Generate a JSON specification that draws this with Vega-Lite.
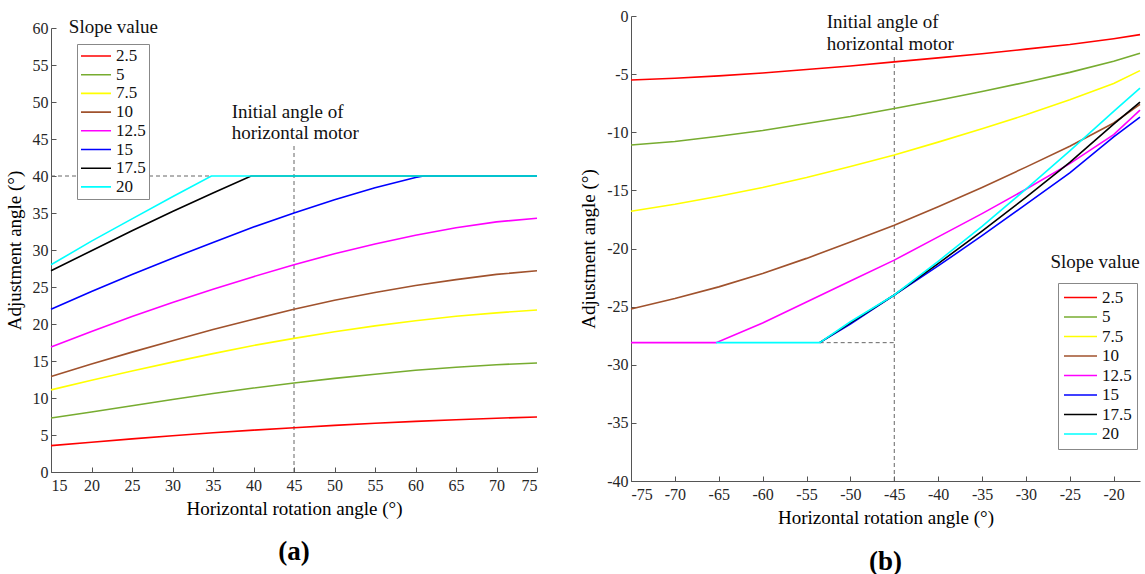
{
  "$schema": "https://vega.github.io/schema/vega-lite/v6.json",
  "background": "white",
  "padding": {"left": 5, "top": 8, "right": 0, "bottom": 0},
  "config": {
    "view": {"stroke": null},
    "font": "Liberation Serif",
    "axis": {
      "labelFont": "Liberation Serif", "labelFontSize": 16, "labelColor": "#262626",
      "titleFont": "Liberation Serif", "titleFontSize": 19, "titleFontWeight": "normal", "titleColor": "#000000",
      "domainColor": "#555555", "tickColor": "#555555", "tickSize": -5, "labelPadding": 8, "grid": false,
      "labelExpr": "'' + datum.value"
    },
    "axisX": {"titlePadding": 6, "labelPadding": 10},
    "axisY": {"titlePadding": 8},
    "legend": {"labelFont": "Liberation Serif"}
  },
  "datasets": {
    "la": [
      {"s":"2.5","x":15,"y":3.56},{"s":"2.5","x":20,"y":4.03},{"s":"2.5","x":25,"y":4.48},{"s":"2.5","x":30,"y":4.9},{"s":"2.5","x":35,"y":5.3},{"s":"2.5","x":40,"y":5.66},{"s":"2.5","x":45,"y":5.99},{"s":"2.5","x":50,"y":6.3},{"s":"2.5","x":55,"y":6.58},{"s":"2.5","x":60,"y":6.84},{"s":"2.5","x":65,"y":7.07},{"s":"2.5","x":70,"y":7.27},{"s":"2.5","x":75,"y":7.43},
      {"s":"5","x":15,"y":7.3},{"s":"5","x":20,"y":8.1},{"s":"5","x":25,"y":8.95},{"s":"5","x":30,"y":9.8},{"s":"5","x":35,"y":10.6},{"s":"5","x":40,"y":11.35},{"s":"5","x":45,"y":12.03},{"s":"5","x":50,"y":12.65},{"s":"5","x":55,"y":13.2},{"s":"5","x":60,"y":13.75},{"s":"5","x":65,"y":14.15},{"s":"5","x":70,"y":14.5},{"s":"5","x":75,"y":14.73},
      {"s":"7.5","x":15,"y":11.1},{"s":"7.5","x":20,"y":12.4},{"s":"7.5","x":25,"y":13.65},{"s":"7.5","x":30,"y":14.85},{"s":"7.5","x":35,"y":16.0},{"s":"7.5","x":40,"y":17.1},{"s":"7.5","x":45,"y":18.06},{"s":"7.5","x":50,"y":18.95},{"s":"7.5","x":55,"y":19.75},{"s":"7.5","x":60,"y":20.45},{"s":"7.5","x":65,"y":21.05},{"s":"7.5","x":70,"y":21.5},{"s":"7.5","x":75,"y":21.9},
      {"s":"10","x":15,"y":12.9},{"s":"10","x":20,"y":14.6},{"s":"10","x":25,"y":16.2},{"s":"10","x":30,"y":17.75},{"s":"10","x":35,"y":19.25},{"s":"10","x":40,"y":20.65},{"s":"10","x":45,"y":22.0},{"s":"10","x":50,"y":23.2},{"s":"10","x":55,"y":24.25},{"s":"10","x":60,"y":25.2},{"s":"10","x":65,"y":26.0},{"s":"10","x":70,"y":26.7},{"s":"10","x":75,"y":27.2},
      {"s":"12.5","x":15,"y":16.9},{"s":"12.5","x":20,"y":19.0},{"s":"12.5","x":25,"y":21.0},{"s":"12.5","x":30,"y":22.9},{"s":"12.5","x":35,"y":24.7},{"s":"12.5","x":40,"y":26.4},{"s":"12.5","x":45,"y":28.0},{"s":"12.5","x":50,"y":29.5},{"s":"12.5","x":55,"y":30.8},{"s":"12.5","x":60,"y":32.0},{"s":"12.5","x":65,"y":33.0},{"s":"12.5","x":70,"y":33.8},{"s":"12.5","x":75,"y":34.3},
      {"s":"15","x":15,"y":22.0},{"s":"15","x":20,"y":24.4},{"s":"15","x":25,"y":26.7},{"s":"15","x":30,"y":28.9},{"s":"15","x":35,"y":31.0},{"s":"15","x":40,"y":33.1},{"s":"15","x":45,"y":35.0},{"s":"15","x":50,"y":36.8},{"s":"15","x":55,"y":38.4},{"s":"15","x":60,"y":39.8},{"s":"15","x":61,"y":40},{"s":"15","x":75,"y":40},
      {"s":"17.5","x":15,"y":27.2},{"s":"17.5","x":20,"y":29.9},{"s":"17.5","x":25,"y":32.6},{"s":"17.5","x":30,"y":35.2},{"s":"17.5","x":35,"y":37.7},{"s":"17.5","x":39.7,"y":40},{"s":"17.5","x":75,"y":40},
      {"s":"20","x":15,"y":28.0},{"s":"20","x":20,"y":31.2},{"s":"20","x":25,"y":34.2},{"s":"20","x":30,"y":37.2},{"s":"20","x":34.8,"y":40},{"s":"20","x":75,"y":40}
    ],
    "lb": [
      {"s":"2.5","x":-75,"y":-5.5},{"s":"2.5","x":-70,"y":-5.35},{"s":"2.5","x":-65,"y":-5.15},{"s":"2.5","x":-60,"y":-4.9},{"s":"2.5","x":-55,"y":-4.6},{"s":"2.5","x":-50,"y":-4.3},{"s":"2.5","x":-45,"y":-3.95},{"s":"2.5","x":-40,"y":-3.6},{"s":"2.5","x":-35,"y":-3.25},{"s":"2.5","x":-30,"y":-2.85},{"s":"2.5","x":-25,"y":-2.45},{"s":"2.5","x":-20,"y":-1.95},{"s":"2.5","x":-17,"y":-1.6},
      {"s":"5","x":-75,"y":-11.1},{"s":"5","x":-70,"y":-10.8},{"s":"5","x":-65,"y":-10.35},{"s":"5","x":-60,"y":-9.85},{"s":"5","x":-55,"y":-9.25},{"s":"5","x":-50,"y":-8.65},{"s":"5","x":-45,"y":-7.95},{"s":"5","x":-40,"y":-7.25},{"s":"5","x":-35,"y":-6.5},{"s":"5","x":-30,"y":-5.7},{"s":"5","x":-25,"y":-4.85},{"s":"5","x":-20,"y":-3.9},{"s":"5","x":-17,"y":-3.2},
      {"s":"7.5","x":-75,"y":-16.8},{"s":"7.5","x":-70,"y":-16.2},{"s":"7.5","x":-65,"y":-15.5},{"s":"7.5","x":-60,"y":-14.75},{"s":"7.5","x":-55,"y":-13.9},{"s":"7.5","x":-50,"y":-12.95},{"s":"7.5","x":-45,"y":-11.95},{"s":"7.5","x":-40,"y":-10.85},{"s":"7.5","x":-35,"y":-9.7},{"s":"7.5","x":-30,"y":-8.5},{"s":"7.5","x":-25,"y":-7.2},{"s":"7.5","x":-20,"y":-5.8},{"s":"7.5","x":-17,"y":-4.7},
      {"s":"10","x":-75,"y":-25.2},{"s":"10","x":-70,"y":-24.3},{"s":"10","x":-65,"y":-23.3},{"s":"10","x":-60,"y":-22.15},{"s":"10","x":-55,"y":-20.85},{"s":"10","x":-50,"y":-19.45},{"s":"10","x":-45,"y":-18.0},{"s":"10","x":-40,"y":-16.4},{"s":"10","x":-35,"y":-14.75},{"s":"10","x":-30,"y":-13.0},{"s":"10","x":-25,"y":-11.2},{"s":"10","x":-20,"y":-9.2},{"s":"10","x":-17,"y":-7.6},
      {"s":"12.5","x":-75,"y":-28.1},{"s":"12.5","x":-65.3,"y":-28.1},{"s":"12.5","x":-60,"y":-26.4},{"s":"12.5","x":-55,"y":-24.6},{"s":"12.5","x":-50,"y":-22.8},{"s":"12.5","x":-45,"y":-21.0},{"s":"12.5","x":-40,"y":-19.0},{"s":"12.5","x":-35,"y":-17.0},{"s":"12.5","x":-30,"y":-14.9},{"s":"12.5","x":-25,"y":-12.7},{"s":"12.5","x":-20,"y":-10.2},{"s":"12.5","x":-17,"y":-8.1},
      {"s":"15","x":-53.5,"y":-28.1},{"s":"15","x":-50,"y":-26.5},{"s":"15","x":-45,"y":-24.0},{"s":"15","x":-40,"y":-21.5},{"s":"15","x":-35,"y":-18.9},{"s":"15","x":-30,"y":-16.2},{"s":"15","x":-25,"y":-13.5},{"s":"15","x":-20,"y":-10.4},{"s":"15","x":-17,"y":-8.7},
      {"s":"17.5","x":-53.5,"y":-28.1},{"s":"17.5","x":-50,"y":-26.4},{"s":"17.5","x":-45,"y":-24.0},{"s":"17.5","x":-40,"y":-21.3},{"s":"17.5","x":-35,"y":-18.5},{"s":"17.5","x":-30,"y":-15.6},{"s":"17.5","x":-25,"y":-12.6},{"s":"17.5","x":-20,"y":-9.3},{"s":"17.5","x":-17,"y":-7.4},
      {"s":"20","x":-65.3,"y":-28.1},{"s":"20","x":-53.5,"y":-28.1},{"s":"20","x":-50,"y":-26.3},{"s":"20","x":-45,"y":-24.0},{"s":"20","x":-40,"y":-21.1},{"s":"20","x":-35,"y":-18.1},{"s":"20","x":-30,"y":-14.9},{"s":"20","x":-25,"y":-11.6},{"s":"20","x":-20,"y":-8.2},{"s":"20","x":-17,"y":-6.2}
    ],
    "ra": [{"x":15,"x2":34.8,"y":40,"y2":40},{"x":45,"x2":45,"y":0,"y2":44.3}],
    "rb": [{"x":-53.5,"x2":-45,"y":-28.1,"y2":-28.1},{"x":-45,"x2":-45,"y":-40,"y2":-3.5}],
    "ta": [{"x":37.3,"y":48.6,"t":"Initial angle of"},{"x":37.3,"y":45.8,"t":"horizontal motor"},{"x":17.2,"y":60.2,"t":"Slope value"}],
    "tb": [{"x":-52.7,"y":-0.5,"t":"Initial angle of"},{"x":-52.7,"y":-2.4,"t":"horizontal motor"},{"x":-27.2,"y":-21.2,"t":"Slope value"}],
    "sp": [{"t":""}]
  },
  "resolve": {"scale": {"color": "independent"}},
  "spacing": 38,
  "hconcat": [
    {
      "spacing": 0,
      "resolve": {"scale": {"color": "independent"}},
      "vconcat": [
        {"width": 486, "height": 1, "data": {"name": "sp"}, "mark": {"type": "text", "fontSize": 0, "opacity": 0, "baseline": "top"}, "encoding": {"text": {"field": "t"}}},
        {
          "width": 486, "height": 444,
          "title": {"text": "(a)", "orient": "bottom", "fontSize": 27, "fontWeight": "bold", "font": "Liberation Serif", "offset": 21, "color": "#000000"},
          "encoding": {
            "x": {"field": "x", "type": "quantitative", "scale": {"domain": [15, 75], "nice": false, "zero": false}, "axis": {"title": "Horizontal rotation angle (°)", "labelFont": "Liberation Serif", "values": [15,20,25,30,35,40,45,50,55,60,65,70,75]}},
            "y": {"field": "y", "type": "quantitative", "scale": {"domain": [0, 60], "nice": false}, "axis": {"title": "Adjustment angle (°)", "labelFont": "Liberation Serif", "values": [0,5,10,15,20,25,30,35,40,45,50,55,60]}}
          },
          "layer": [
            {"data": {"name": "ra"}, "mark": {"type": "rule", "strokeDash": [4, 3], "color": "#666666", "strokeWidth": 1}, "encoding": {"x2": {"field": "x2"}, "y2": {"field": "y2"}}},
            {"data": {"name": "la"}, "mark": {"type": "line", "strokeWidth": 1.6},
             "encoding": {"color": {"field": "s", "type": "nominal",
               "scale": {"domain": ["2.5","5","7.5","10","12.5","15","17.5","20"], "range": ["#FF0000","#77AC30","#FFFF00","#A0522D","#FF00FF","#0000FF","#000000","#00FFFF"]},
               "legend": {"title": null, "orient": "none", "legendX": 26, "legendY": 16, "symbolType": "stroke", "symbolSize": 900, "symbolStrokeWidth": 1.6, "labelFont": "Liberation Serif", "labelFontSize": 17, "labelColor": "#111111", "labelOffset": 4, "clipHeight": 18, "rowPadding": 0.7, "padding": 3, "strokeColor": "#888888", "fillColor": "white"}}}},
            {"data": {"name": "ta"}, "mark": {"type": "text", "align": "left", "baseline": "middle", "fontSize": 19, "font": "Liberation Serif", "color": "#111111"}, "encoding": {"text": {"field": "t"}}}
          ]
        }
      ]
    },
    {
      "width": 509, "height": 465,
      "title": {"text": "(b)", "orient": "bottom", "fontSize": 27, "fontWeight": "bold", "font": "Liberation Serif", "offset": 22, "color": "#000000"},
      "encoding": {
        "x": {"field": "x", "type": "quantitative", "scale": {"domain": [-75, -17], "nice": false, "zero": false}, "axis": {"title": "Horizontal rotation angle (°)", "labelFont": "Liberation Serif", "values": [-75,-70,-65,-60,-55,-50,-45,-40,-35,-30,-25,-20]}},
        "y": {"field": "y", "type": "quantitative", "scale": {"domain": [-40, 0], "nice": false}, "axis": {"title": "Adjustment angle (°)", "labelFont": "Liberation Serif", "values": [0,-5,-10,-15,-20,-25,-30,-35,-40]}}
      },
      "layer": [
        {"data": {"name": "rb"}, "mark": {"type": "rule", "strokeDash": [4, 3], "color": "#666666", "strokeWidth": 1}, "encoding": {"x2": {"field": "x2"}, "y2": {"field": "y2"}}},
        {"data": {"name": "lb"}, "mark": {"type": "line", "strokeWidth": 1.6},
         "encoding": {"color": {"field": "s", "type": "nominal",
           "scale": {"domain": ["2.5","5","7.5","10","12.5","15","17.5","20"], "range": ["#FF0000","#77AC30","#FFFF00","#A0522D","#FF00FF","#0000FF","#000000","#00FFFF"]},
           "legend": {"title": null, "orient": "none", "legendX": 427, "legendY": 267, "symbolType": "stroke", "symbolSize": 1089, "symbolStrokeWidth": 1.6, "labelFont": "Liberation Serif", "labelFontSize": 17, "labelColor": "#111111", "labelOffset": 4, "clipHeight": 19, "rowPadding": 0.5, "padding": 5, "strokeColor": "#888888", "fillColor": "white"}}}},
        {"data": {"name": "tb"}, "mark": {"type": "text", "align": "left", "baseline": "middle", "fontSize": 19, "font": "Liberation Serif", "color": "#111111"}, "encoding": {"text": {"field": "t"}}}
      ]
    }
  ]
}
